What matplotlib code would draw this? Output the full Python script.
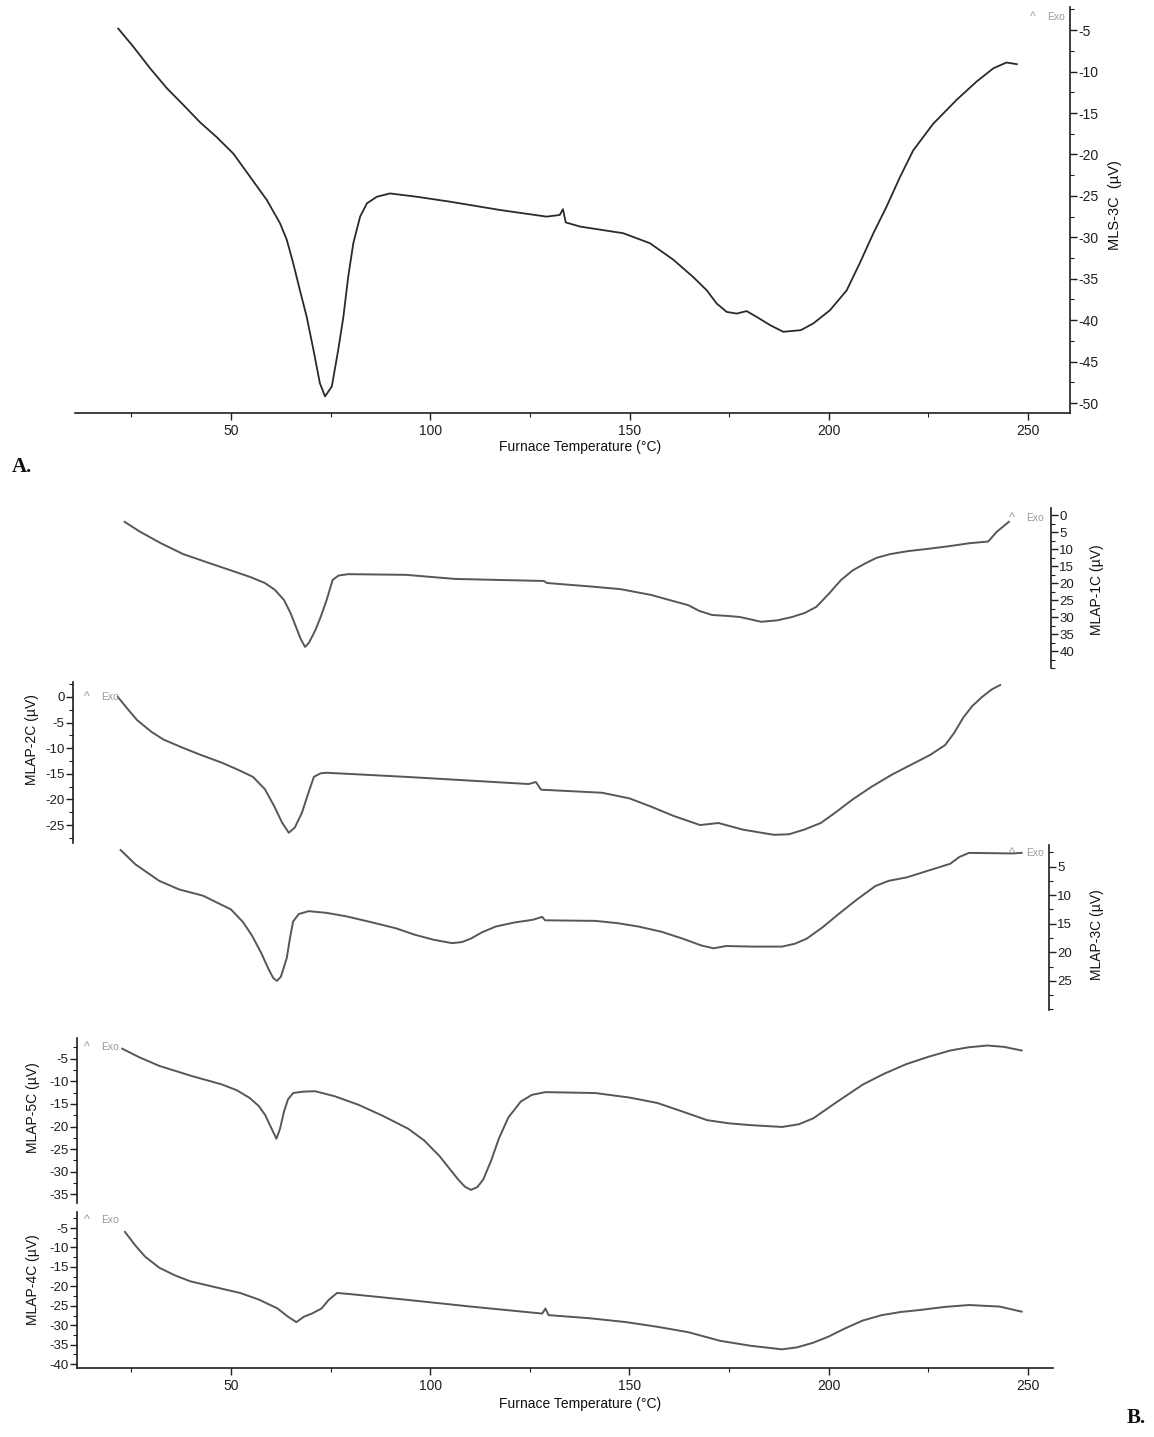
import numpy as np
import matplotlib
matplotlib.use("Agg")
import matplotlib.pyplot as plt
from matplotlib.ticker import MultipleLocator, FuncFormatter, FixedLocator

plt.rcParams['font.family'] = ['Liberation Sans', 'DejaVu Sans']

# ---------------- data ----------------
# Panel A : MLS-3C
a_temp = [21.7, 25.5, 29.7, 33.9, 38.0, 42.2, 46.4, 50.6, 54.8, 59.0, 62.3, 64.0, 65.6, 67.3, 69.0,
          70.7, 72.3, 73.6, 75.3, 76.9, 78.2, 79.4, 80.7, 82.4, 84.1, 86.6, 89.9, 96.6, 105.0,
          117.5, 129.2, 132.5, 133.3, 134.0, 137.6, 148.4, 155.1, 161.0, 166.0, 169.4, 171.9,
          174.4, 176.9, 179.4, 181.9, 185.3, 188.6, 193.0, 196.1, 200.3, 204.5, 207.8, 211.2,
          214.5, 217.9, 221.2, 226.2, 232.1, 237.1, 241.3, 244.6, 247.2]
a_mls3c = [-4.8, -7.0, -9.6, -12.0, -14.0, -16.1, -17.9, -19.9, -22.7, -25.5, -28.3, -30.3, -33.1,
           -36.4, -39.6, -43.6, -47.6, -49.2, -48.0, -43.6, -39.6, -34.8, -30.7, -27.5, -25.9,
           -25.1, -24.7, -25.1, -25.7, -26.7, -27.5, -27.3, -26.6, -28.2, -28.7, -29.5, -30.7,
           -32.7, -34.8, -36.4, -38.0, -39.0, -39.2, -38.9, -39.6, -40.6, -41.4, -41.2, -40.4,
           -38.8, -36.4, -33.1, -29.5, -26.3, -22.7, -19.5, -16.3, -13.4, -11.2, -9.6, -8.9, -9.1]

# Panel B
t_1c = [23.3, 27.0, 32.4, 38.0, 44.7, 50.0, 55.0, 58.5, 61.0, 63.3, 65.0, 66.3, 67.5, 68.6, 69.6,
        71.2, 72.5, 74.0, 75.5, 77.0, 79.4, 93.9, 106.2, 117.0, 128.5, 129.3, 140.0, 147.7,
        155.4, 160.0, 164.7, 167.5, 170.7, 174.7, 177.7, 183.0, 187.0, 190.8, 194.0, 196.9,
        200.0, 203.1, 206.0, 209.2, 212.0, 215.4, 220.0, 224.6, 230.0, 235.3, 240.0, 242.2, 245.2]
v_1c = [-2.0, -4.8, -8.3, -11.5, -14.2, -16.3, -18.3, -20.0, -22.0, -25.0, -29.0, -32.9, -36.5,
        -38.8, -37.5, -33.8, -30.0, -25.0, -19.1, -17.8, -17.4, -17.6, -18.8, -19.1, -19.4,
        -20.0, -21.0, -21.8, -23.5, -25.0, -26.5, -28.2, -29.4, -29.7, -30.0, -31.4, -31.0,
        -30.0, -28.8, -27.0, -23.2, -19.1, -16.3, -14.2, -12.6, -11.5, -10.6, -10.0, -9.2,
        -8.3, -7.8, -4.9, -2.0]

t_2c = [21.6, 24.0, 26.4, 30.0, 33.0, 37.2, 42.0, 47.9, 52.0, 55.5, 58.5, 60.9, 62.8, 64.5, 66.0,
        67.8, 69.3, 70.8, 72.5, 74.0, 93.9, 124.7, 126.5, 127.8, 143.1, 150.0, 155.4, 161.0,
        167.7, 172.3, 178.5, 186.2, 190.0, 193.8, 198.0, 201.6, 206.0, 210.8, 216.0, 221.5,
        225.5, 229.2, 231.5, 233.7, 236.0, 238.5, 241.0, 243.0]
v_2c = [0.0, -2.3, -4.5, -6.8, -8.3, -9.7, -11.2, -12.9, -14.3, -15.6, -18.0, -21.4, -24.5, -26.5,
        -25.5, -22.6, -19.0, -15.6, -14.9, -14.8, -15.6, -17.0, -16.6, -18.1, -18.7, -19.8,
        -21.4, -23.2, -25.0, -24.6, -25.9, -26.9, -26.8, -25.9, -24.6, -22.6, -20.0, -17.5,
        -15.1, -12.9, -11.3, -9.4, -7.0, -4.1, -1.8, 0.0, 1.5, 2.3]

t_3c = [22.3, 26.0, 32.0, 37.0, 43.0, 50.0, 53.0, 55.2, 57.5, 59.4, 60.6, 61.5, 62.5, 64.0, 64.8,
        65.6, 67.0, 69.5, 74.0, 78.9, 85.0, 91.4, 96.0, 100.8, 105.5, 108.0, 110.2, 113.0,
        116.4, 121.0, 125.8, 128.1, 128.8, 141.4, 147.0, 152.3, 158.0, 163.3, 168.0, 171.1,
        174.2, 180.5, 188.3, 191.5, 194.5, 198.5, 202.3, 207.0, 211.7, 215.0, 219.5, 225.0,
        230.5, 232.8, 235.2, 246.1, 248.4]
v_3c = [-2.1, -4.6, -7.5, -9.0, -10.1, -12.5, -14.7, -17.0, -20.0, -22.9, -24.5, -25.0, -24.3,
        -21.0, -17.5, -14.6, -13.3, -12.8, -13.1, -13.7, -14.7, -15.8, -16.9, -17.8, -18.4,
        -18.2, -17.6, -16.5, -15.5, -14.8, -14.3, -13.8, -14.4, -14.5, -14.9, -15.5, -16.4,
        -17.6, -18.8, -19.3, -18.9, -19.0, -19.0, -18.5, -17.6, -15.6, -13.4, -10.8, -8.4,
        -7.5, -6.9, -5.7, -4.5, -3.3, -2.6, -2.7, -2.6]

t_5c = [22.7, 27.0, 32.0, 40.0, 47.7, 51.5, 54.7, 57.0, 58.6, 60.2, 61.4, 62.3, 63.3, 64.3, 65.6,
        68.0, 71.1, 76.0, 82.0, 88.0, 94.5, 98.5, 102.3, 105.0, 107.0, 108.7, 110.2, 111.8,
        113.3, 115.3, 117.2, 119.6, 122.7, 125.5, 128.9, 141.4, 150.0, 157.0, 163.0, 169.5,
        175.0, 180.5, 188.3, 192.5, 196.1, 202.0, 208.6, 214.0, 219.5, 225.0, 230.5, 235.0,
        239.8, 244.0, 248.4]
v_5c = [-2.8, -4.7, -6.6, -8.8, -10.7, -12.0, -13.7, -15.5, -17.5, -20.5, -22.7, -20.5, -16.7,
        -14.0, -12.6, -12.3, -12.2, -13.3, -15.2, -17.6, -20.5, -23.1, -26.5, -29.5, -31.7,
        -33.3, -34.0, -33.4, -31.7, -27.5, -22.7, -18.0, -14.5, -13.0, -12.4, -12.6, -13.6,
        -14.8, -16.6, -18.6, -19.3, -19.7, -20.1, -19.5, -18.2, -14.6, -10.7, -8.3, -6.2,
        -4.6, -3.2, -2.5, -2.1, -2.4, -3.2]

t_4c = [23.4, 26.0, 28.5, 32.0, 36.0, 39.8, 46.0, 52.3, 57.0, 61.7, 64.3, 66.4, 68.3, 70.3, 72.7,
        74.5, 76.6, 80.0, 94.5, 110.2, 128.1, 128.9, 129.7, 140.0, 149.2, 157.0, 164.8, 172.7,
        180.5, 188.3, 192.0, 196.1, 200.0, 203.9, 208.5, 213.3, 218.0, 222.7, 229.0, 235.2,
        242.9, 248.4]
v_4c = [-6.0, -9.5, -12.4, -15.2, -17.2, -18.7, -20.2, -21.7, -23.4, -25.7, -27.8, -29.2, -27.8,
        -27.0, -25.7, -23.5, -21.7, -22.0, -23.5, -25.2, -27.0, -25.7, -27.4, -28.2, -29.2,
        -30.4, -31.8, -34.0, -35.3, -36.2, -35.7, -34.5, -32.9, -30.9, -28.8, -27.4, -26.6,
        -26.1, -25.3, -24.8, -25.2, -26.5]

x_ticks = [50, 100, 150, 200, 250]
x_label = "Furnace Temperature (°C)"

# ---------------- layout helpers ----------------
W, H = 1154, 1437
fig = plt.figure(figsize=(W / 100, H / 100), dpi=100)
fig.patch.set_facecolor('white')

PX_PER_DEG = 3.985
X50 = 231.0


def rect(x0, y0, x1, y1):
    return [x0 / W, 1 - y1 / H, (x1 - x0) / W, (y1 - y0) / H]


def tlim(x0, x1):
    return (50 + (x0 - X50) / PX_PER_DEG, 50 + (x1 - X50) / PX_PER_DEG)


def fx(x):
    return x / W


def fy(y):
    return 1 - y / H


AX_COL = '#1e1e1e'
TICK_FS = 10


def style_axis(ax, side, yticks, ylim, abs_labels=False, minor=2.5, fs=TICK_FS):
    for s in ['top', 'bottom', 'left', 'right']:
        ax.spines[s].set_visible(False)
    ax.spines[side].set_visible(True)
    ax.spines[side].set_color(AX_COL)
    ax.spines[side].set_linewidth(1.2)
    ax.set_ylim(*ylim)
    ax.yaxis.set_major_locator(FixedLocator(yticks))
    ax.yaxis.set_minor_locator(MultipleLocator(minor))
    if abs_labels:
        ax.yaxis.set_major_formatter(FuncFormatter(lambda v, p: f"{abs(v):g}"))
    else:
        ax.yaxis.set_major_formatter(FuncFormatter(lambda v, p: f"{v:g}"))
    if side == 'right':
        ax.yaxis.tick_right()
    else:
        ax.yaxis.tick_left()
    ax.tick_params(axis='y', which='major', length=5, width=1, colors=AX_COL,
                   labelsize=fs, pad=1)
    ax.tick_params(axis='y', which='minor', length=3, width=0.8, colors=AX_COL)
    ax.set_xticks([])
    ax.patch.set_alpha(0)


def exo(x, y, fs=7.5):
    fig.text(fx(x), fy(y), "^", fontsize=fs + 1.5, color='#9a9a9a', ha='center', va='center')
    fig.text(fx(x + 14), fy(y), "Exo", fontsize=fs, color='#9a9a9a', ha='left', va='center')


LINE_A = '#2a2a2a'
LINE_B = '#575757'

# ---------------- Panel A ----------------
axA = fig.add_axes(rect(75, 7, 1070, 413))
axA.plot(a_temp, a_mls3c, color=LINE_A, lw=1.3, solid_joinstyle='round')
axA.set_xlim(*tlim(75, 1070))
style_axis(axA, 'right', list(range(-5, -51, -5)), (-51.2, -2.2))
axA.spines['bottom'].set_visible(True)
axA.spines['bottom'].set_color(AX_COL)
axA.spines['bottom'].set_linewidth(1.2)
axA.xaxis.set_major_locator(FixedLocator(x_ticks))
axA.xaxis.set_minor_locator(MultipleLocator(25))
axA.tick_params(axis='x', which='major', length=5, width=1, colors=AX_COL, labelsize=TICK_FS, pad=3)
axA.tick_params(axis='x', which='minor', length=3, width=0.8, colors=AX_COL)
fig.text(fx(580), fy(447), x_label, fontsize=10, ha='center', va='center', color='#111111')
fig.text(fx(1115), fy(205), "MLS-3C  (µV)", fontsize=10.5, rotation=90,
         ha='center', va='center', color='#111111')
exo(1033, 17)
fig.text(fx(12), fy(467), "A.", fontsize=15, fontweight='bold', family='Liberation Serif',
         ha='left', va='center', color='#111111')

# ---------------- Panel B ----------------
# MLAP-1C (right axis)
ax1 = fig.add_axes(rect(77, 508, 1051, 668))
ax1.plot(t_1c, v_1c, color=LINE_B, lw=1.4, solid_joinstyle='round')
ax1.set_xlim(*tlim(77, 1051))
style_axis(ax1, 'right', list(range(0, -41, -5)), (-45, 2.06), abs_labels=True, fs=9.5)
fig.text(fx(1097), fy(590), "MLAP-1C (µV)", fontsize=10, rotation=90, ha='center', va='center',
         color='#111111')
exo(1012, 518)

# MLAP-2C (left axis)
ax2 = fig.add_axes(rect(73, 682, 1053, 843))
ax2.plot(t_2c, v_2c, color=LINE_B, lw=1.4, solid_joinstyle='round')
ax2.set_xlim(*tlim(73, 1053))
style_axis(ax2, 'left', list(range(0, -26, -5)), (-28.5, 2.9), fs=9.5)
fig.text(fx(32), fy(740), "MLAP-2C (µV)", fontsize=10, rotation=90, ha='center', va='center',
         color='#111111')
exo(87, 697)

# MLAP-3C (right axis)
ax3 = fig.add_axes(rect(77, 845, 1049, 1010))
ax3.plot(t_3c, v_3c, color=LINE_B, lw=1.4, solid_joinstyle='round')
ax3.set_xlim(*tlim(77, 1049))
style_axis(ax3, 'right', list(range(-5, -26, -5)), (-30.1, -1.22), abs_labels=True, fs=9.5)
fig.text(fx(1097), fy(935), "MLAP-3C (µV)", fontsize=10, rotation=90, ha='center', va='center',
         color='#111111')
exo(1012, 853)

# MLAP-5C (left axis)
ax5 = fig.add_axes(rect(77, 1038, 1053, 1203))
ax5.plot(t_5c, v_5c, color=LINE_B, lw=1.4, solid_joinstyle='round')
ax5.set_xlim(*tlim(77, 1053))
style_axis(ax5, 'left', list(range(-5, -36, -5)), (-36.9, -0.44), fs=9.5)
fig.text(fx(33), fy(1108), "MLAP-5C (µV)", fontsize=10, rotation=90, ha='center', va='center',
         color='#111111')
exo(87, 1047)

# MLAP-4C (left axis + shared temperature axis)
ax4 = fig.add_axes(rect(77, 1212, 1053, 1368))
ax4.plot(t_4c, v_4c, color=LINE_B, lw=1.4, solid_joinstyle='round')
ax4.set_xlim(*tlim(77, 1053))
style_axis(ax4, 'left', list(range(-5, -41, -5)), (-41.0, -0.87), fs=9.5)
ax4.spines['bottom'].set_visible(True)
ax4.spines['bottom'].set_color(AX_COL)
ax4.spines['bottom'].set_linewidth(1.2)
ax4.xaxis.set_major_locator(FixedLocator(x_ticks))
ax4.xaxis.set_minor_locator(MultipleLocator(25))
ax4.tick_params(axis='x', which='major', length=5, width=1, colors=AX_COL, labelsize=TICK_FS, pad=3)
ax4.tick_params(axis='x', which='minor', length=3, width=0.8, colors=AX_COL)
fig.text(fx(33), fy(1280), "MLAP-4C (µV)", fontsize=10, rotation=90, ha='center', va='center',
         color='#111111')
exo(87, 1220)
fig.text(fx(580), fy(1404), x_label, fontsize=10, ha='center', va='center', color='#111111')
fig.text(fx(1127), fy(1418), "B.", fontsize=15, fontweight='bold', family='Liberation Serif',
         ha='left', va='center', color='#111111')

fig.savefig("out.png", dpi=100, facecolor='white')
